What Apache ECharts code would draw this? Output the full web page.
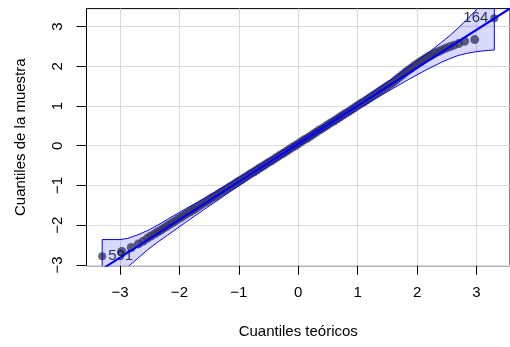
<!DOCTYPE html>
<html><head><meta charset="utf-8">
<script src="https://cdn.jsdelivr.net/npm/echarts@6/dist/echarts.min.js"></script>
<style>html,body{margin:0;padding:0;background:#fff}#c{width:510px;height:347px}</style>
</head><body><div id="c"></div>
<script>
// Tick labels
const xTicks = [-3, -2, -1, 0, 1, 2, 3];
const yTicks = [-3, -2, -1, 0, 1, 2, 3];
// Axis extents (R usr region)
const xRange = [-3.564, 3.564];
const yRange = [-3.02, 3.45];
// Sample points (theoretical quantile, sample quantile)
const sampleX = [-2.97, -2.81, -2.69, -2.61, -2.54, -2.48, -2.42, -2.37, -2.32, -2.27, -2.22, -2.17, -2.12, -2.07, -2.02, -1.97, -1.92, -1.87, -1.82, -1.78,
  -1.75, -1.70, -1.65, -1.60, -1.55, -1.50, -1.45, -1.40, -1.35, -1.30, -1.25, -1.20, -1.15, -1.10, -1.05, -1.00,
  -0.95, -0.90, -0.85, -0.80, -0.75, -0.70, -0.65, -0.60, -0.55, -0.50, -0.45, -0.40, -0.35, -0.30, -0.25, -0.20,
  -0.15, -0.10, -0.05, 0.00, 0.05, 0.10, 0.15, 0.20, 0.25, 0.30, 0.35, 0.40, 0.45, 0.50, 0.55, 0.60, 0.65, 0.70,
  0.75, 0.80, 0.85, 0.90, 0.95, 1.00, 1.05, 1.10, 1.15, 1.20, 1.25, 1.30, 1.35, 1.40, 1.45, 1.50, 1.55, 1.60,
  1.65, 1.70, 1.75, 1.80, 1.85, 1.90, 1.95, 2.00, 2.05, 2.10, 2.15, 2.20, 2.25, 2.30, 2.36, 2.42, 2.48, 2.55, 2.62, 2.70, 2.80, 2.97];
const sampleY = [-2.66, -2.56, -2.47, -2.40, -2.33, -2.27, -2.22, -2.17, -2.13, -2.08, -2.03, -1.98, -1.94, -1.89, -1.84, -1.80, -1.75, -1.70, -1.66, -1.62,
  -1.59, -1.55, -1.50, -1.45, -1.41, -1.36, -1.31, -1.27, -1.22, -1.17, -1.13, -1.08, -1.03, -0.99, -0.94, -0.89,
  -0.85, -0.80, -0.75, -0.70, -0.66, -0.61, -0.56, -0.52, -0.47, -0.42, -0.38, -0.33, -0.28, -0.23, -0.19, -0.14,
  -0.09, -0.04, 0.00, 0.05, 0.10, 0.15, 0.19, 0.24, 0.29, 0.34, 0.39, 0.43, 0.48, 0.53, 0.58, 0.62, 0.67, 0.72,
  0.77, 0.82, 0.86, 0.91, 0.96, 1.01, 1.06, 1.10, 1.15, 1.20, 1.25, 1.30, 1.35, 1.40, 1.45, 1.50, 1.55, 1.60,
  1.66, 1.72, 1.78, 1.84, 1.90, 1.95, 2.01, 2.06, 2.11, 2.16, 2.21, 2.25, 2.29, 2.33, 2.37, 2.41, 2.45, 2.49, 2.53, 2.57, 2.63, 2.67];
// Labelled extreme observations
const outlierX = [-3.30, 3.30];
const outlierY = [-2.78, 3.21];
const outlierIds = ['591', '164'];
// Confidence envelope
const envX = [-3.30, -3.15, -3.0, -2.87, -2.7, -2.53, -2.37, -2.2, -1.9, -1.59, -1.2, -0.8, -0.4, 0, 0.4, 0.8, 1.2, 1.58, 1.86, 2.13, 2.41, 2.55, 2.69, 2.83, 2.97, 3.13, 3.30];
const envUpper = [-2.36, -2.36, -2.36, -2.33, -2.24, -2.13, -2.00, -1.85, -1.59, -1.33, -0.99, -0.62, -0.25, 0.12, 0.50, 0.89, 1.30, 1.68, 1.99, 2.27, 2.60, 2.77, 2.96, 3.16, 3.38, 3.65, 3.96];
const envLower = [-3.84, -3.52, -3.27, -3.05, -2.83, -2.61, -2.43, -2.25, -1.93, -1.61, -1.21, -0.80, -0.41, -0.02, 0.36, 0.73, 1.10, 1.43, 1.67, 1.89, 2.10, 2.19, 2.27, 2.32, 2.36, 2.39, 2.41];
// Reference line
const fitIntercept = 0.05;
const fitSlope = 0.955;

const FONT = '"Liberation Sans", Arial, sans-serif';
const minus = v => String(v).replace('-', '\u2212');

const chart = echarts.init(document.getElementById('c'), null, {renderer: 'canvas'});
const envData = envX.map((x, i) => [x, envUpper[i], envLower[i]]);
const lineData = xRange.map(x => [x, fitIntercept + fitSlope * x]);

chart.setOption({
  animation: false,
  backgroundColor: '#fff',
  grid: {left: 86.5, right: -4, top: 8.6, bottom: 81.2, show: true, borderColor: '#000', borderWidth: 1, backgroundColor: 'transparent'},
  xAxis: {
    type: 'value', min: xRange[0], max: xRange[1],
    axisLine: {show: false, onZero: false},
    axisTick: {show: true, customValues: xTicks, length: 9, lineStyle: {color: '#000', width: 1}},
    axisLabel: {customValues: xTicks, formatter: minus, margin: 20, fontSize: 15, color: '#000', fontFamily: FONT},
    splitLine: {show: true, lineStyle: {color: '#d9d9d9', width: 1}},
    name: 'Cuantiles teóricos', nameLocation: 'middle', nameGap: 59,
    nameTextStyle: {fontSize: 15, color: '#000', fontFamily: FONT}
  },
  yAxis: {
    type: 'value', min: yRange[0], max: yRange[1],
    axisLine: {show: false, onZero: false},
    axisTick: {show: true, customValues: yTicks, length: 10, lineStyle: {color: '#000', width: 1}},
    axisLabel: {customValues: yTicks, formatter: minus, rotate: 90, margin: 21, fontSize: 15, color: '#000', fontFamily: FONT},
    splitLine: {show: true, lineStyle: {color: '#d9d9d9', width: 1}},
    name: 'Cuantiles de la muestra', nameLocation: 'middle', nameGap: 58,
    nameTextStyle: {fontSize: 15, color: '#000', fontFamily: FONT}
  },
  series: [
    {
      type: 'scatter', z: 2, symbol: 'circle', symbolSize: 9,
      itemStyle: {color: '#454545'},
      data: sampleX.map((x, i) => [x, sampleY[i]])
    },
    {
      type: 'scatter', z: 2, symbol: 'circle', symbolSize: 8,
      itemStyle: {color: '#454545'},
      data: outlierX.map((x, i) => ({
        value: [x, outlierY[i]], name: outlierIds[i],
        label: {show: true, position: x < 0 ? 'right' : 'left', distance: 2, formatter: outlierIds[i],
          fontSize: 15, color: '#000', fontFamily: FONT}
      }))
    },
    {
      type: 'line', z: 3, symbol: 'none', clip: true,
      lineStyle: {color: '#0000ff', width: 2},
      data: lineData
    },
    {
      type: 'custom', z: 4, clip: true,
      encode: {x: 0, y: [1, 2]},
      data: envData,
      renderItem: function (params, api) {
        if (params.dataIndex !== 0) return null;
        const pts = [];
        for (let i = 0; i < envData.length; i++) pts.push(api.coord([envData[i][0], envData[i][1]]));
        for (let i = envData.length - 1; i >= 0; i--) pts.push(api.coord([envData[i][0], envData[i][2]]));
        return {type: 'polygon', shape: {points: pts},
          style: {fill: 'rgba(0,0,255,0.15)', stroke: '#0000ff', lineWidth: 1}};
      }
    }
  ]
});
</script>
</body></html>
